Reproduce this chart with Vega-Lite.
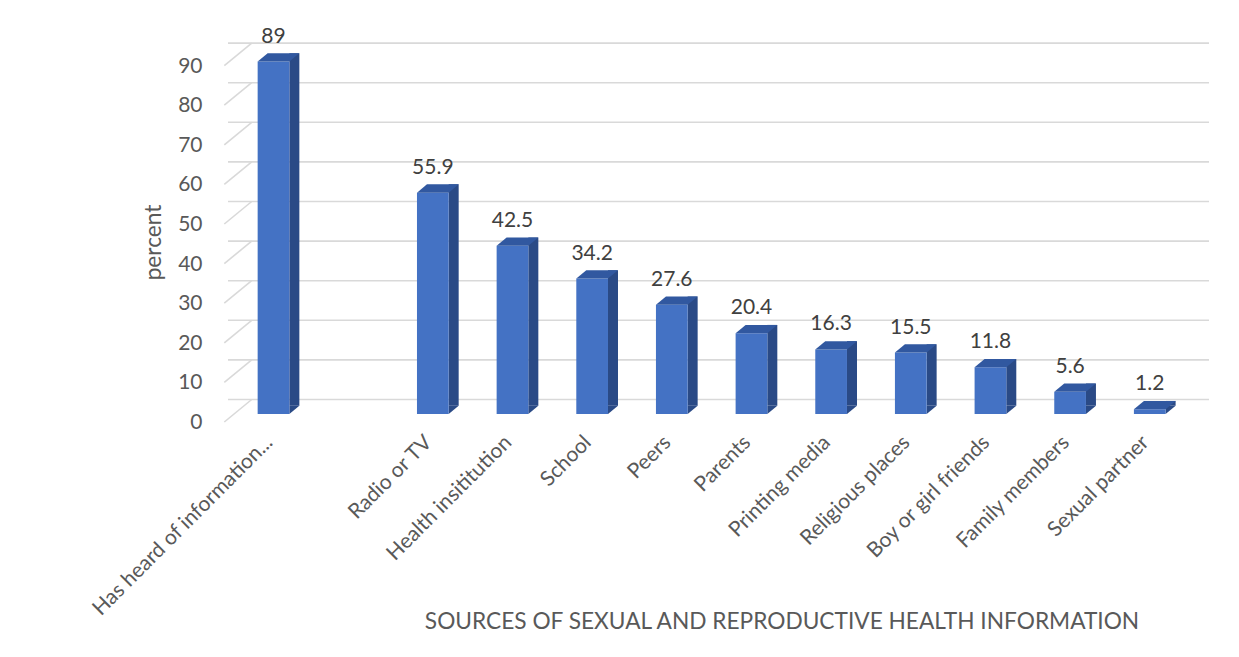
{
  "$schema": "https://vega.github.io/schema/vega-lite/v6.json",
  "autosize": "none",
  "width": 957,
  "height": 396,
  "padding": {"left": 228, "top": 18, "right": 54, "bottom": 243},
  "background": "white",
  "config": {"view": {"stroke": null}, "font": "Lato"},
  "datasets": {
    "bars": [
      {"source": "Has heard of information...", "percent": 89},
      {"source": "Radio or TV", "percent": 55.9},
      {"source": "Health insititution", "percent": 42.5},
      {"source": "School", "percent": 34.2},
      {"source": "Peers", "percent": 27.6},
      {"source": "Parents", "percent": 20.4},
      {"source": "Printing media", "percent": 16.3},
      {"source": "Religious places", "percent": 15.5},
      {"source": "Boy or girl friends", "percent": 11.8},
      {"source": "Family members", "percent": 5.6},
      {"source": "Sexual partner", "percent": 1.2}
    ],
    "ticks": [
      {"t": 0}, {"t": 10}, {"t": 20}, {"t": 30}, {"t": 40},
      {"t": 50}, {"t": 60}, {"t": 70}, {"t": 80}, {"t": 90}
    ]
  },
  "encoding": {
    "x": {
      "field": "source",
      "type": "nominal",
      "scale": {
        "domain": ["Has heard of information...", " ", "Radio or TV", "Health insititution", "School", "Peers", "Parents", "Printing media", "Religious places", "Boy or girl friends", "Family members", "Sexual partner"],
        "paddingInner": 0.602,
        "paddingOuter": 0.3078,
        "align": 0.6047
      },
      "axis": {
        "title": "SOURCES OF SEXUAL AND REPRODUCTIVE HEALTH INFORMATION",
        "titleFont": "Lato",
        "titleFontSize": 22.7,
        "titleFontWeight": "normal",
        "titleColor": "#595959",
        "titleX": 553.5,
        "titleY": 207,
        "titleAlign": "center",
        "titleBaseline": "middle",
        "labelAngle": -45,
        "labelAlign": "right",
        "labelBaseline": "middle",
        "labelPadding": 25,
        "labelOffset": -4,
        "labelFontSize": 21,
        "labelColor": "#595959",
        "labelLimit": 500,
        "labelOverlap": false,
        "labelFlush": false,
        "domain": false,
        "ticks": false,
        "grid": false
      }
    },
    "y": {
      "type": "quantitative",
      "scale": {"domain": [0, 100], "nice": false},
      "axis": {
        "title": "percent",
        "titleFontSize": 22.7,
        "titleFontWeight": "normal",
        "titleColor": "#595959",
        "titleX": -68,
        "titleY": 224,
        "titleAlign": "center",
        "titleBaseline": "alphabetic",
        "values": [0, 10, 20, 30, 40, 50, 60, 70, 80, 90],
        "labelFontSize": 21,
        "labelColor": "#595959",
        "labelPadding": 26,
        "labelOffset": 8.5,
        "domain": false,
        "ticks": false,
        "grid": false
      }
    }
  },
  "layer": [
    {
      "data": {"name": "ticks"},
      "mark": {"type": "rule", "stroke": "#d9d9d9", "strokeWidth": 1.6, "xOffset": 24, "yOffset": -14.5},
      "encoding": {"x": null, "y": {"field": "t", "type": "quantitative"}}
    },
    {
      "data": {"name": "ticks"},
      "mark": {"type": "point", "shape": "M -49.2 8 L -21.8 -14.5", "size": 4, "filled": false, "stroke": "#d9d9d9", "strokeWidth": 1.6, "opacity": 1},
      "encoding": {"x": {"datum": "Has heard of information..."}, "y": {"field": "t", "type": "quantitative"}}
    },
    {
      "data": {"name": "bars"},
      "mark": {"type": "bar", "width": 10, "xOffset": 20.85, "yOffset": -8.3, "color": "#2a4a86"},
      "encoding": {"y": {"field": "percent"}}
    },
    {
      "data": {"name": "bars"},
      "mark": {"type": "point", "shape": "M 15.85 0 L 15.85 -8.3 L 25.85 -8.3 Z", "size": 4, "filled": true, "color": "#2a4a86", "opacity": 1, "strokeWidth": 0},
      "encoding": {"y": {"datum": 0}}
    },
    {
      "data": {"name": "bars"},
      "mark": {"type": "bar", "width": 31.7, "color": "#4472c4"},
      "encoding": {"y": {"field": "percent"}}
    },
    {
      "data": {"name": "bars"},
      "mark": {"type": "point", "shape": "M -15.85 0 L 15.85 0 L 25.85 -8.3 L -5.85 -8.3 Z", "size": 4, "filled": true, "color": "#3158a0", "opacity": 1, "strokeWidth": 0},
      "encoding": {"y": {"field": "percent"}}
    },
    {
      "data": {"name": "bars"},
      "mark": {"type": "text", "dy": -25, "fontSize": 21, "color": "#404040", "baseline": "middle"},
      "encoding": {"y": {"field": "percent"}, "text": {"field": "percent", "type": "quantitative"}}
    }
  ]
}
